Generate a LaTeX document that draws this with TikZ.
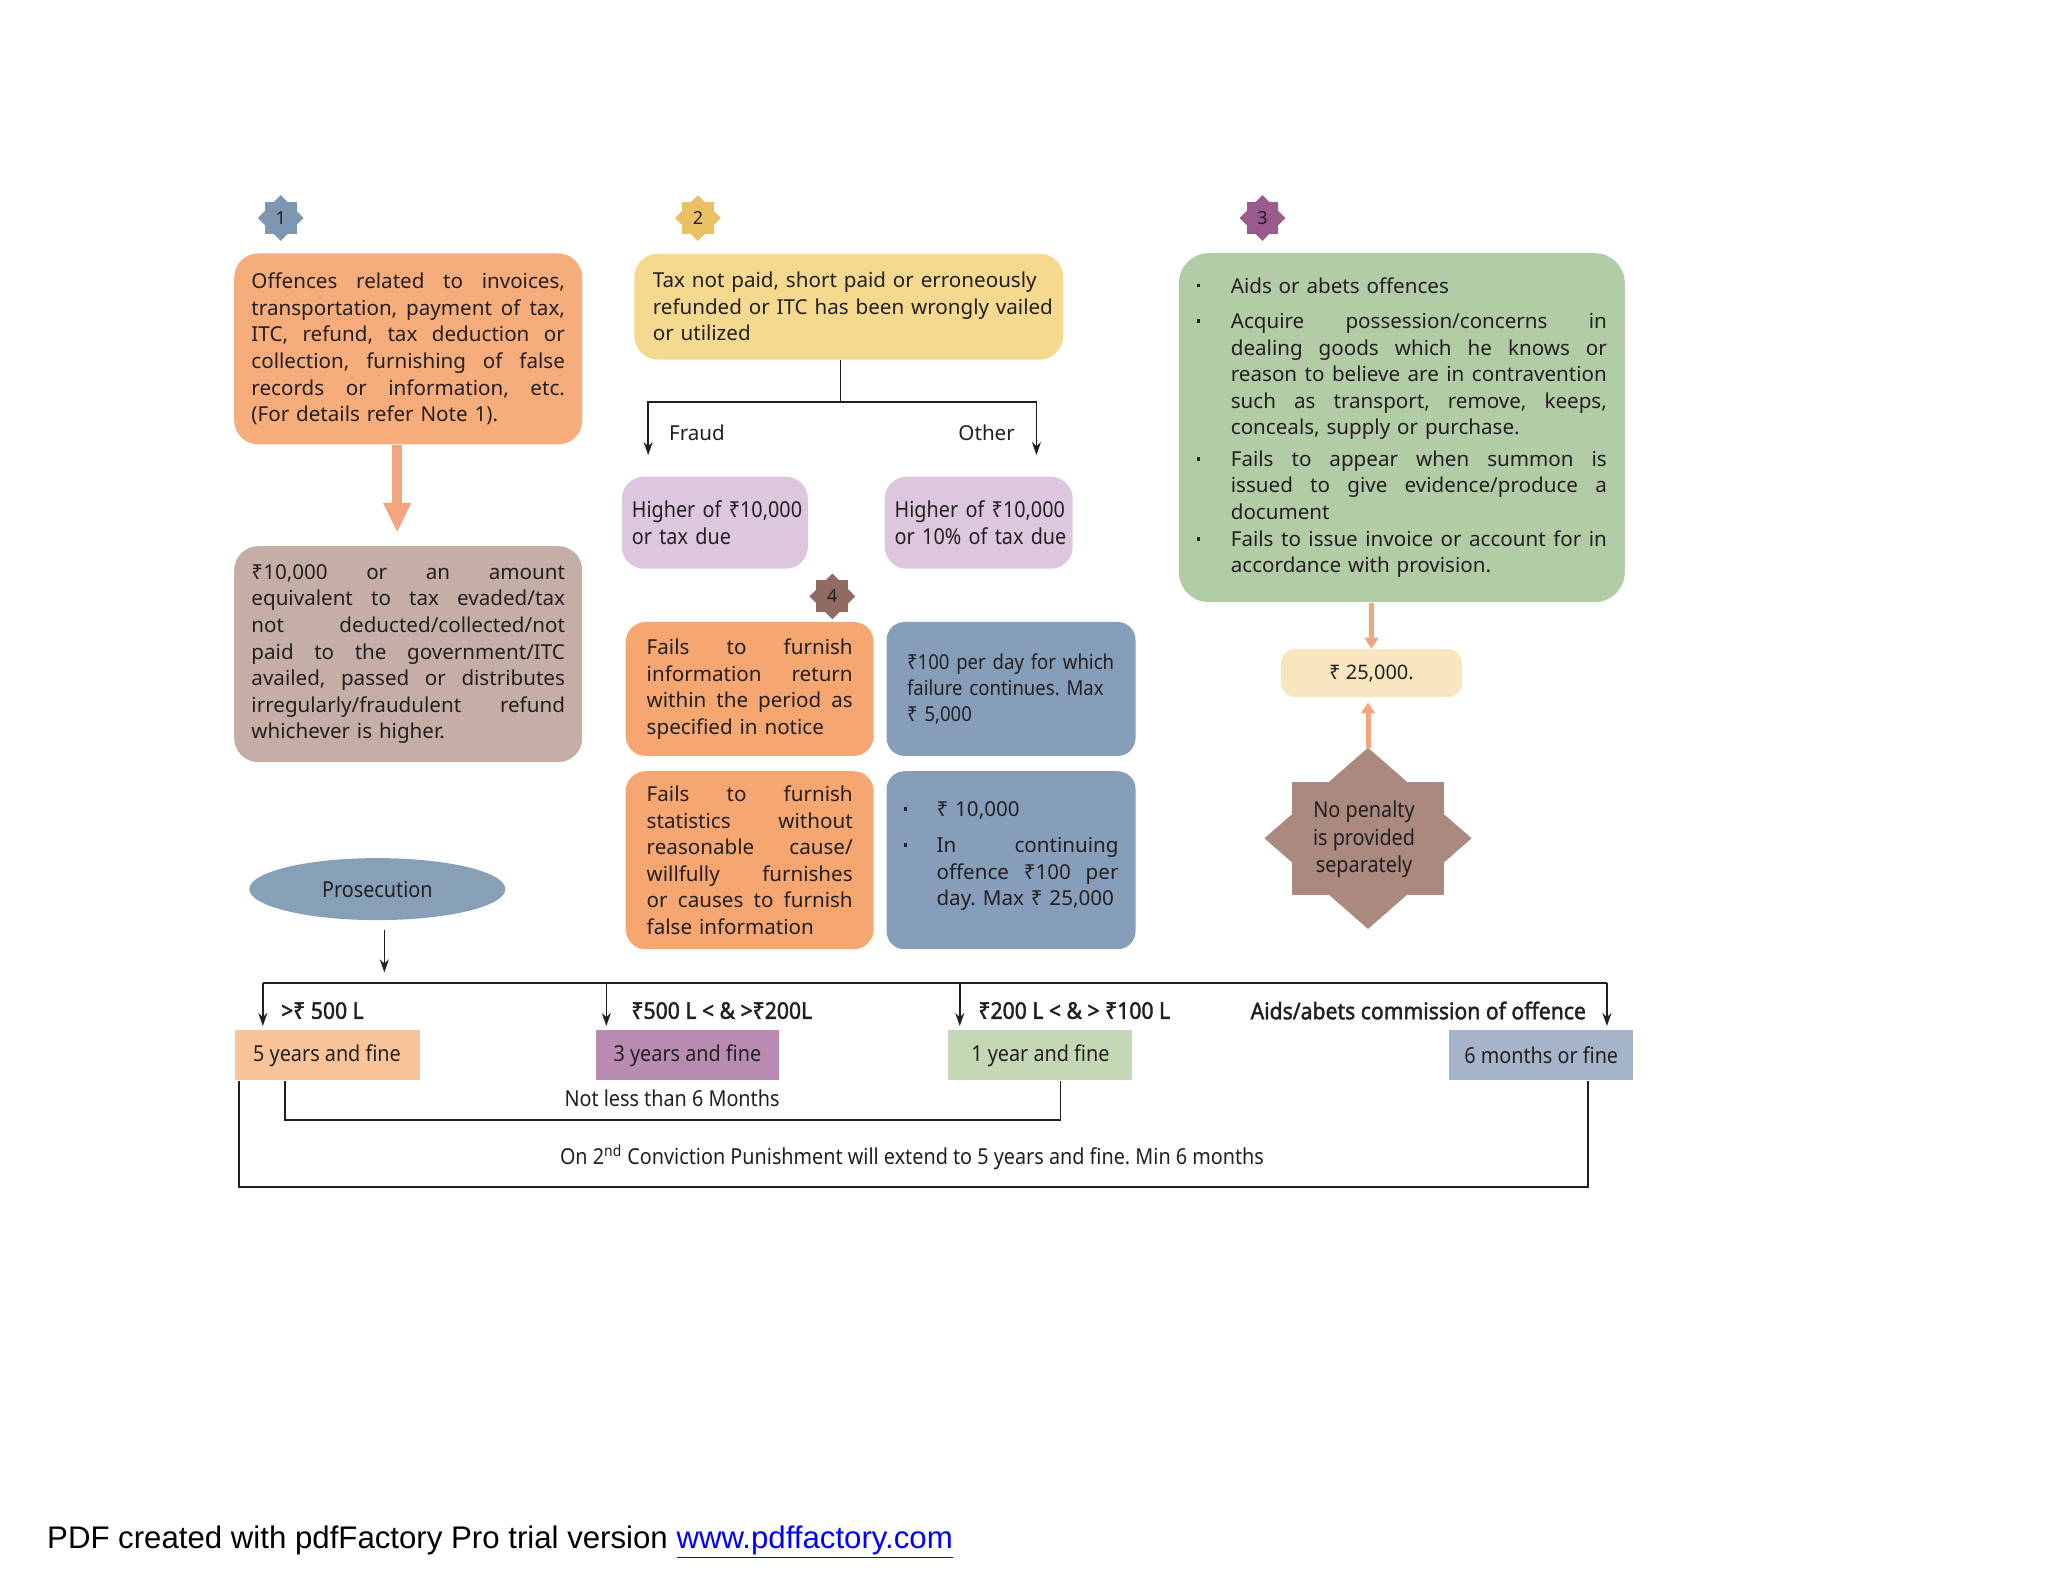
\documentclass[tikz,border=0pt]{standalone}
\usepackage{fontspec}
\setmainfont{Noto Sans}
\newfontfamily\condfont{Noto Sans}[FakeStretch=0.9]
\newfontfamily\condbold{Noto Sans}[FakeStretch=0.92, FakeBold=1.8]
\newfontfamily\footfont{Liberation Sans}
\usetikzlibrary{arrows.meta,shapes.geometric}
\setlength{\parindent}{0pt}
\frenchspacing
\newlength{\jw}
\newcommand{\jl}[1]{\leavevmode\hbox to \jw{\spaceskip=0.26em plus 1fil\relax #1}\\}
\newcommand{\bitem}[3]{\makebox[#1][l]{\raisebox{0.28em}{\rule{1.8pt}{1.8pt}}}\parbox[t]{#2}{\setlength{\jw}{#2}#3}}
\newcommand{\bodyf}{\fontsize{10.3}{13.3}\selectfont}
\newcommand{\condf}{\condfont\fontsize{11}{13.2}\selectfont}
\definecolor{txt}{HTML}{231F20}
\definecolor{cb1}{HTML}{F7AC7C}
\definecolor{ctaupe}{HTML}{C4AEA6}
\definecolor{cyel}{HTML}{F4D98E}
\definecolor{cpink}{HTML}{DDC7DE}
\definecolor{corg}{HTML}{F6A670}
\definecolor{cblue}{HTML}{869EBA}
\definecolor{cgrn}{HTML}{B2CCA6}
\definecolor{c25}{HTML}{F8E6BE}
\definecolor{cstar}{HTML}{AA897F}
\definecolor{cpros}{HTML}{87A0B8}
\definecolor{cy5}{HTML}{FAC49A}
\definecolor{cy3}{HTML}{BA8BB0}
\definecolor{cy1}{HTML}{C5D8B6}
\definecolor{cm6}{HTML}{A5B4C9}
\definecolor{salmon}{HTML}{F3A580}
\definecolor{bd1}{HTML}{7D97B1}
\definecolor{bd2}{HTML}{E9C063}
\definecolor{bd3}{HTML}{9A5A8E}
\definecolor{bd4}{HTML}{8F6B64}
\newcommand{\badge}[5]{%
  \fill[#4] (#2-16,#3-16) rectangle (#2+16,#3+16);
  \fill[#4] (#2-23,#3) -- (#2,#3-23) -- (#2+23,#3) -- (#2,#3+23) -- cycle;
  \node[badgetext] (#1) at (#2,#3) {#5};}
\begin{document}
\begin{tikzpicture}[x=0.49785pt,y=-0.49785pt,
  rbox/.style={rounded corners=12pt, inner ysep=0pt, align=left, text=txt, font=\bodyf},
  cbox/.style={rbox, font=\condf},
  flat/.style={inner sep=0pt, text=txt, font=\condf, align=center},
  badgetext/.style={inner sep=0pt, text=txt, font=\fontsize{9}{10}\selectfont},
  lab/.style={inner sep=0pt, text=txt, font=\condbold\fontsize{11.5}{13}\selectfont},
  note/.style={inner sep=0pt, text=txt, font=\condf},
  line/.style={draw=txt, line width=0.8pt},
  arr/.style={line, -{Stealth[length=6.5pt,width=4.5pt]}},
  fatarr/.style={draw=salmon, line width=5.25pt, -{Triangle[length=15pt,width=13pt]}},
  thinarr/.style={draw=salmon, line width=2.5pt, -{Triangle[length=5.5pt,width=7pt]}}]
\useasboundingbox (0,0) rectangle (2057,1589);
\fill[white] (0,0) rectangle (2057,1589);

% badges
\badge{bg1}{282}{219}{bd1}{1}
\badge{bg2}{701}{219}{bd2}{2}
\badge{bg3}{1268}{219}{bd3}{3}
\badge{bg4}{836}{599}{bd4}{4}

% column 1
\node[rbox, fill=cb1, minimum width=174pt, minimum height=95.5pt, text width=156.75pt, inner xsep=8.625pt] (b1) at (410,350.5)
 {\setlength{\jw}{156.75pt}\jl{Offences related to invoices,}\jl{transportation, payment of tax,}\jl{ITC, refund, tax deduction or}\jl{collection, furnishing of false}\jl{records or information, etc.}\mbox{(For details refer Note 1).}};
\node[rbox, fill=ctaupe, minimum width=174pt, minimum height=108pt, text width=156.75pt, inner xsep=8.625pt] (b1b) at (410,657)
 {\setlength{\jw}{156.75pt}\jl{₹10,000 or an amount}\jl{equivalent to tax evaded/tax}\jl{not deducted/collected/not}\jl{paid to the government/ITC}\jl{availed, passed or distributes}\jl{irregularly/fraudulent refund}\mbox{whichever is higher.}};
\draw[fatarr, shorten >=6.5pt] ([xshift=-5.5pt]b1.south) -- ([xshift=-5.5pt]b1b.north);

% column 2
\node[rbox, fill=cyel, minimum width=214.5pt, minimum height=53pt, text width=196pt, inner xsep=9.25pt] (b2) at (852.5,308)
 {\mbox{Tax not paid, short paid or erroneously}\\\mbox{refunded or ITC has been wrongly vailed}\\\mbox{or utilized}};
\coordinate (jn) at (844,404);
\coordinate (fr) at (651,457);
\coordinate (ot) at (1041,457);
\draw[line] (b2.south -| jn) -- (jn);
\draw[arr] (jn) -| (fr);
\draw[arr] (jn) -| (ot);
\node[inner sep=0pt, text=txt, font=\bodyf] (lfr) at (700,435) {Fraud};
\node[inner sep=0pt, text=txt, font=\bodyf] (lot) at (991,435) {Other};
\node[cbox, rounded corners=11pt, font=\condfont\fontsize{11}{13.8}\selectfont, fill=cpink, minimum width=93pt, minimum height=46pt, text width=83pt, inner xsep=5pt] (pL) at (718,525)
 {\mbox{Higher of ₹10,000}\\\mbox{or tax due}};
\node[cbox, rounded corners=11pt, font=\condfont\fontsize{11}{13.8}\selectfont, fill=cpink, minimum width=94pt, minimum height=46pt, text width=84pt, inner xsep=5pt] (pR) at (983,525)
 {\mbox{Higher of ₹10,000}\\\mbox{or 10\% of tax due}};

% block 4
\node[rbox, rounded corners=10pt, fill=corg, minimum width=124pt, minimum height=67pt, text width=103pt, inner xsep=10.5pt] (o4a) at (753,692)
 {\setlength{\jw}{103pt}\jl{Fails to furnish}\jl{information return}\jl{within the period as}\mbox{specified in notice}};
\node[cbox, rounded corners=9pt, font=\condfont\fontsize{10.3}{13.1}\selectfont, fill=cblue, minimum width=124.5pt, minimum height=67pt, text width=104pt, inner xsep=10.25pt] (bl4a) at (1015.5,692)
 {\mbox{₹100 per day for which}\\\mbox{failure continues. Max}\\\mbox{₹ 5,000}};
\node[rbox, rounded corners=10pt, fill=corg, minimum width=124pt, minimum height=89pt, text width=103pt, inner xsep=10.5pt] (o4b) at (753,864)
 {\setlength{\jw}{103pt}\jl{Fails to furnish}\jl{statistics without}\jl{reasonable cause/}\jl{willfully furnishes}\jl{or causes to furnish}\mbox{false information}};
\node[rbox, rounded corners=9pt, fill=cblue, minimum width=124.5pt, minimum height=89pt, text width=107.5pt, inner xsep=8.5pt] (bl4b) at (1015.5,864)
 {\bitem{16.5pt}{91pt}{\mbox{₹ 10,000}}\\[4.5pt]\bitem{16.5pt}{91pt}{\jl{In continuing}\jl{offence ₹100 per}\mbox{day. Max ₹ 25,000}}\par\kern4pt};

% column 3
\node[rbox, rounded corners=15pt, fill=cgrn, minimum width=223pt, minimum height=174.5pt, text width=205pt, inner xsep=9pt] (grn) at (1408,429.5)
 {\bitem{17pt}{188pt}{\mbox{Aids or abets offences}}\\[4.4pt]
  \bitem{17pt}{188pt}{\jl{Acquire possession/concerns in}\jl{dealing goods which he knows or}\jl{reason to believe are in contravention}\jl{such as transport, remove, keeps,}\mbox{conceals, supply or purchase.}}\\[4.4pt]
  \bitem{17pt}{188pt}{\jl{Fails to appear when summon is}\jl{issued to give evidence/produce a}\mbox{document}}\\[4.4pt]
  \bitem{17pt}{188pt}{\jl{Fails to issue invoice or account for in}\mbox{accordance with provision.}}};
\node[rbox, rounded corners=7pt, align=center, font=\fontsize{10}{12}\selectfont, fill=c25, minimum width=90.5pt, minimum height=24pt, inner xsep=0pt] (r25) at (1377.5,676) {₹ 25,000.};
\draw[thinarr] (grn.south -| r25.north) -- (r25.north);
\fill[cstar] (1298,785) rectangle (1450,899);
\fill[cstar] (1270,842) -- (1374,751) -- (1478,842) -- (1374,933) -- cycle;
\coordinate (sttop) at (1374,751);
\node[flat, font=\condfont\fontsize{11}{13.8}\selectfont] (stxt) at (1370,843) {No penalty\\is provided\\separately};
\draw[thinarr, shorten >=2.5pt] (sttop) -- (sttop |- r25.south);

% prosecution
\node[ellipse, fill=cpros, minimum width=128pt, minimum height=31pt, inner sep=0pt, text=txt, font=\condf] (pros) at (379,893) {Prosecution};
\draw[arr, line width=0.7pt] ([xshift=3.5pt,yshift=-4.5pt]pros.south) -- ++(0,43);

\node[flat, fill=cy5, minimum width=92.5pt, minimum height=25pt] (y5) at (328.5,1060) {5 years and fine};
\node[flat, fill=cy3, minimum width=91.5pt, minimum height=25pt] (y3) at (690.5,1060) {3 years and fine};
\node[flat, fill=cy1, minimum width=92pt, minimum height=25pt] (y1) at (1045,1060) {1 year and fine};
\node[flat, fill=cm6, minimum width=92pt, minimum height=25pt] (m6) at (1548,1060) {6 months or fine};

\coordinate (busL) at (264,987);
\coordinate (busR) at (1614,987);
\coordinate (d3) at (609,987);
\coordinate (d1) at (964,987);
\draw[line] (busL) -- (busR);
\draw[arr, shorten >=2pt] (busL) -- (busL |- y5.north);
\draw[arr, shorten >=2pt] (d3) -- (d3 |- y3.north);
\draw[arr, shorten >=2pt] (d1) -- (d1 |- y1.north);
\draw[arr, shorten >=2pt] (busR) -- (busR |- m6.north);

\node[lab, anchor=west] (l1) at (282,1015) {>₹ 500 L};
\node[lab] (l2) at (725,1015) {₹500 L < \& >₹200L};
\node[lab] (l3) at (1079,1015) {₹200 L < \& > ₹100 L};
\node[lab] (l4) at (1424.5,1015) {Aids/abets commission of offence};

\coordinate (ib1) at (286,1125);
\coordinate (ib2) at (1065,1125);
\draw[line] (ib1 |- y5.south) -- (ib1) -- (ib2) -- (ib2 |- y1.south);
\coordinate (ob1) at (240,1192);
\coordinate (ob2) at (1595,1192);
\draw[line] (ob1 |- y5.south) -- (ob1) -- (ob2) -- (ob2 |- m6.south);
\node[note] (n6) at (675,1103) {Not less than 6 Months};
\node[note] (n2) at (916,1162) {On 2\textsuperscript{nd} Conviction Punishment will extend to 5 years and fine. Min 6 months};

% footer
\node[anchor=west, inner sep=0pt, font=\footfont\fontsize{15.6}{18}\selectfont] (foot) at (47,1549)
 {PDF created with pdfFactory Pro trial version \textcolor{blue}{\underline{www.pdffactory.com}}};
\end{tikzpicture}
\end{document}
